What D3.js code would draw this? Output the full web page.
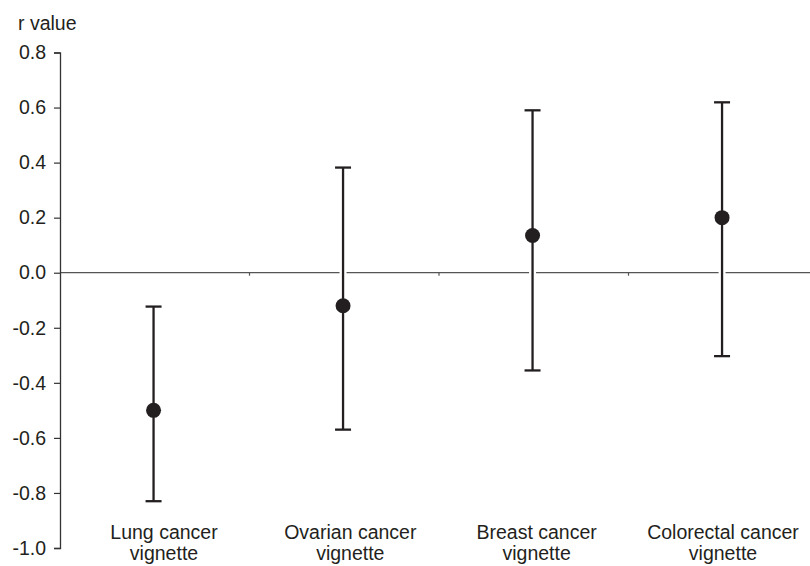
<!DOCTYPE html>
<html>
<head>
<meta charset="utf-8">
<script src="https://cdn.jsdelivr.net/npm/d3@7"></script>
<style>
  html, body { margin: 0; padding: 0; background: #fff; }
  svg { display: block; }
  text { font-family: "Liberation Sans", Arial, sans-serif; fill: #231f20; }
</style>
</head>
<body>
<div id="chart"></div>
<script>
// data
const categories = ['Lung cancer vignette', 'Ovarian cancer vignette', 'Breast cancer vignette', 'Colorectal cancer vignette'];
const labelLines = [['Lung cancer', 'vignette'], ['Ovarian cancer', 'vignette'], ['Breast cancer', 'vignette'], ['Colorectal cancer', 'vignette']];
const rValues = [-0.50, -0.12, 0.135, 0.20];
const lowerCI = [-0.83, -0.57, -0.355, -0.303];
const upperCI = [-0.123, 0.382, 0.59, 0.619];
const yTicks = [0.8, 0.6, 0.4, 0.2, 0.0, -0.2, -0.4, -0.6, -0.8, -1.0];

const W = 810, H = 566;
const ink = '#231f20';
const fontSize = '19.5px';

const svg = d3.select('#chart').append('svg')
  .attr('width', W).attr('height', H);

const y = d3.scaleLinear().domain([-1.0, 0.8]).range([548, 52.5]);
const x = d3.scaleBand().domain(categories).range([60, 818]).padding(0);
const xLabel = d3.scalePoint().domain(categories).range([164, 723]);

// zero line across the plot
svg.append('line')
  .attr('x1', 60).attr('x2', W)
  .attr('y1', y(0)).attr('y2', y(0))
  .attr('stroke', '#555').attr('stroke-width', 1.3);

// little category ticks hanging off the zero line
svg.append('g')
  .selectAll('line')
  .data(categories.slice(1))
  .join('line')
  .attr('x1', d => x(d)).attr('x2', d => x(d))
  .attr('y1', y(0)).attr('y2', y(0) + 3)
  .attr('stroke', '#555').attr('stroke-width', 1.2);

// y axis
const yAxis = d3.axisLeft(y)
  .tickValues(yTicks)
  .tickSize(6)
  .tickPadding(8)
  .tickFormat(d3.format('.1f'));

const gy = svg.append('g')
  .attr('transform', 'translate(60,0)')
  .call(yAxis);
gy.select('.domain').attr('stroke', '#333').attr('stroke-width', 1.3);
gy.selectAll('.tick line').attr('stroke', '#333').attr('stroke-width', 1.2);
gy.selectAll('.tick text')
  .style('font-size', fontSize)
  .style('font-family', '"Liberation Sans", Arial, sans-serif')
  .attr('fill', ink)
  .text(d => d3.format('.1f')(d).replace('−', '-'));

svg.append('text')
  .attr('x', 18).attr('y', 30)
  .style('font-size', fontSize)
  .text('r value');

// error bars
const bars = svg.append('g')
  .selectAll('g')
  .data(categories.map((c, i) => ({ c, v: rValues[i], lo: lowerCI[i], hi: upperCI[i] })))
  .join('g')
  .attr('transform', d => `translate(${x(d.c) + x.bandwidth() / 2 - 1.2},0)`);

bars.append('line')
  .attr('y1', d => y(d.lo)).attr('y2', d => y(d.hi))
  .attr('stroke', '#fff').attr('stroke-width', 7);

bars.append('line')
  .attr('y1', d => y(d.lo)).attr('y2', d => y(d.hi))
  .attr('stroke', ink).attr('stroke-width', 2.3);

bars.append('line')
  .attr('x1', -8).attr('x2', 8)
  .attr('y1', d => y(d.hi)).attr('y2', d => y(d.hi))
  .attr('stroke', ink).attr('stroke-width', 2.3);

bars.append('line')
  .attr('x1', -8).attr('x2', 8)
  .attr('y1', d => y(d.lo)).attr('y2', d => y(d.lo))
  .attr('stroke', ink).attr('stroke-width', 2.3);

bars.append('circle')
  .attr('cy', d => y(d.v))
  .attr('r', 7.5)
  .attr('fill', ink);

// category labels, two lines each
const labels = svg.append('g')
  .selectAll('text')
  .data(categories.map((c, i) => ({ c, lines: labelLines[i] })))
  .join('text')
  .attr('text-anchor', 'middle')
  .style('font-size', fontSize);

labels.selectAll('tspan')
  .data(d => d.lines.map((t, j) => ({ t, j, c: d.c })))
  .join('tspan')
  .attr('x', d => xLabel(d.c))
  .attr('y', d => 539 + d.j * 21)
  .text(d => d.t);
</script>
</body>
</html>
